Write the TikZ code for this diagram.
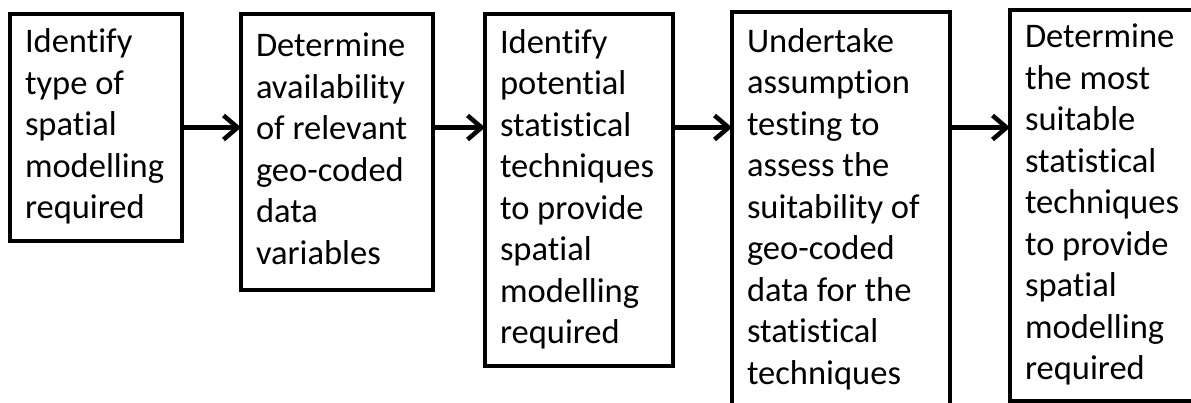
\documentclass[tikz,border=0pt]{standalone}
\usepackage{fontspec}
\setmainfont{Carlito}[Ligatures={NoCommon}]
\usetikzlibrary{arrows.meta}
\newcommand{\stagefont}{\fontsize{34.5pt}{41.5pt}\selectfont}

\begin{document}
\begin{tikzpicture}[x=1pt, y=-1pt,
    stage/.style={draw, line width=4.5pt, anchor=north west, align=flush left, inner xsep=15pt, inner ysep=0pt, outer sep=0pt, font=\stagefont},
    flow/.style={line width=4.5pt, -{Straight Barb[length=14pt, width=24pt]}}]
    \useasboundingbox (0,0) rectangle (1191,403);
    \clip (0,0) rectangle (1191,403);
    % the five stages
    \node[stage, text width=142pt, minimum height=227pt] (b1) at (10,14) {\strut Identify\\type of\\spatial\\modelling\\required\strut};
    \node[stage, text width=162pt, minimum height=276pt] (b2) at (241,14) {\strut Determine\\availability\\of relevant\\geo-coded\\data\\variables\strut};
    \node[stage, text width=158pt, minimum height=352pt] (b3) at (485,14) {\strut Identify\\potential\\statistical\\techniques\\to provide\\spatial\\modelling\\required\strut};
    \node[stage, text width=188pt, minimum height=396pt] (b4) at (732,12) {\strut Undertake\\assumption\\testing to\\assess the\\suitability of\\geo-coded\\data for the\\statistical\\techniques\strut};
    \node[stage, text width=170pt, minimum height=391pt] (b5) at (1010,10) {\strut Determine\\the most\\suitable\\statistical\\techniques\\to provide\\spatial\\modelling\\required\strut};
    % arrows between them
    \draw[flow] (b1.east) -- (b1.east -| b2.west);
    \draw[flow] (b1.east -| b2.east) -- (b1.east -| b3.west);
    \draw[flow] (b1.east -| b3.east) -- (b1.east -| b4.west);
    \draw[flow] (b1.east -| b4.east) -- (b1.east -| b5.west);
\end{tikzpicture}
\end{document}
